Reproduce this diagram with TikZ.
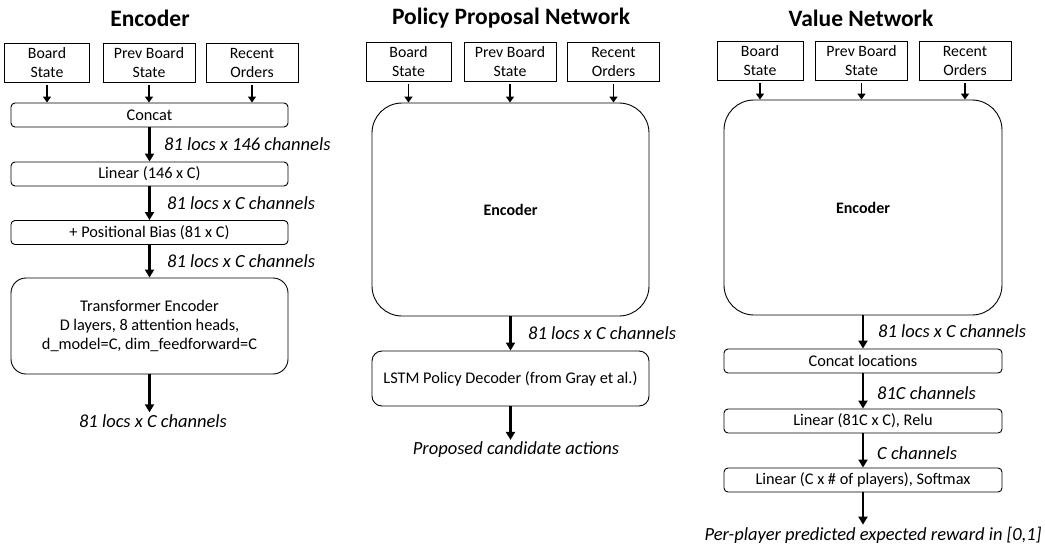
\documentclass[tikz,border=0pt]{standalone}
\usepackage{fontspec}
\setmainfont{Carlito}
\usetikzlibrary{arrows.meta}

\begin{document}
\begin{tikzpicture}
  [x=1pt,y=-1pt,
   title/.style={font=\bfseries\fontsize{23.5}{28}\selectfont},
   inbox/.style={draw,line width=1pt,minimum width=92pt,minimum height=39pt,align=center,inner sep=0pt,font=\fontsize{15.8}{19}\selectfont},
   layer/.style={draw,line width=0.9pt,rounded corners=4pt,minimum width=277pt,minimum height=24pt,align=center,inner sep=0pt,font=\fontsize{16.3}{19}\selectfont},
   bigbox/.style={layer,rounded corners=30pt,font=\bfseries\fontsize{16}{19}\selectfont},
   dims/.style={font=\itshape\fontsize{18.5}{22}\selectfont,inner sep=2pt},
   feed/.style={line width=1.8pt,shorten <=2pt,-{Triangle[width=8pt,length=6pt]}},
   flow/.style={line width=2.4pt,-{Triangle[width=9pt,length=8pt]}}]
  \useasboundingbox (0,0) rectangle (1045,544);

  % Encoder
  \node[title] (etitle) at (150,18) {Encoder};
  \node[inbox,minimum width=85pt] (ebs) at (47,62.5) {Board\\State};
  \node[inbox] (epbs) at (149,62.5) {Prev Board\\State};
  \node[inbox] (ero) at (252,62.5) {Recent\\Orders};
  \node[layer] (ecat) at (149.5,115) {Concat};
  \node[layer] (elin) at (149.5,174) {Linear (146 x C)};
  \node[layer] (epos) at (149.5,232.5) {+ Positional Bias (81 x C)};
  \node[layer,rounded corners=15pt,minimum height=96pt] (etf) at (149.5,326)
    {Transformer Encoder\\D layers, 8 attention heads,\\d\_model=C, dim\_feedforward=C};
  \node[dims] (eout) at (153,421) {81 locs x C channels};
  \node[dims,anchor=west] at (162,144) {81 locs x 146 channels};
  \node[dims,anchor=west] at (165,203) {81 locs x C channels};
  \node[dims,anchor=west] at (165,261) {81 locs x C channels};

  % Policy Proposal Network
  \node[title] (ptitle) at (511,18) {Policy Proposal Network};
  \node[inbox,minimum width=85pt] (pbs) at (408.5,62) {Board\\State};
  \node[inbox] (ppbs) at (510,62) {Prev Board\\State};
  \node[inbox] (pro) at (613.5,62) {Recent\\Orders};
  \node[bigbox,minimum height=213pt] (penc) at (510.5,209.5) {Encoder};
  \node[layer,rounded corners=10pt,minimum height=55pt] (plstm) at (510.5,378.5)
    {LSTM Policy Decoder (from Gray et al.)};
  \node[dims] (pout) at (516,450) {Proposed candidate actions};
  \node[dims,anchor=west] at (526,333) {81 locs x C channels};

  % Value Network
  \node[title] (vtitle) at (861,18) {Value Network};
  \node[inbox,minimum width=86pt] (vbs) at (760,61) {Board\\State};
  \node[inbox] (vpbs) at (861.5,61) {Prev Board\\State};
  \node[inbox] (vro) at (965,61) {Recent\\Orders};
  \node[bigbox,minimum width=278pt,minimum height=215pt] (venc) at (863,207.5) {Encoder};
  \node[layer,minimum width=278pt] (vcat) at (863,361) {Concat locations};
  \node[layer,minimum width=278pt] (vlin) at (863,421) {Linear (81C x C), Relu};
  \node[layer,minimum width=278pt] (vsm) at (863,480) {Linear (C x \# of players), Softmax};
  \node[dims] (vout) at (873,535) {Per-player predicted expected reward in [0,1]};
  \node[dims,anchor=west] at (876,331) {81 locs x C channels};
  \node[dims,anchor=west] at (875,393) {81C channels};
  \node[dims,anchor=west] at (875,453) {C channels};

  \foreach \from/\to in {ebs/ecat,epbs/ecat,ero/ecat,pbs/penc,ppbs/penc,pro/penc,vbs/venc,vpbs/venc,vro/venc}
    \draw[feed] (\from) -- (\from |- \to.north);

  \foreach \from/\to in {ecat/elin,elin/epos,epos/etf,etf/eout,penc/plstm,plstm/pout,venc/vcat,vcat/vlin,vlin/vsm,vsm/vout}
    \draw[flow] (\from) -- (\from |- \to.north);
\end{tikzpicture}
\end{document}
